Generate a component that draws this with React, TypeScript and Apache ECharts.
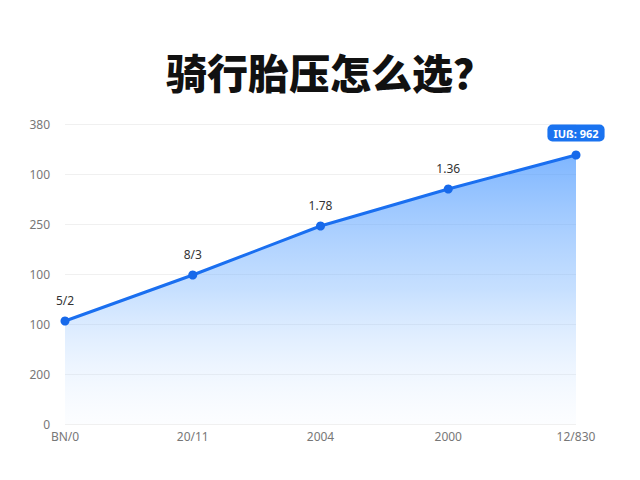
import * as echarts from "echarts";
import React, { useEffect, useRef } from "react";

const categories = ["BN/0", "20/11", "2004", "2000", "12/830"];
const values = [103, 149, 198, 235, 269];
const pointLabels = ["5/2", "8/3", "1.78", "1.36", "IUß: 962"];
// tick labels as printed on the y axis, from 0 upward
const yTickLabels = ["0", "200", "100", "100", "250", "100", "380"];

const App: React.FC = () => {
  const chartRef = useRef<HTMLDivElement | null>(null);

  useEffect(() => {
    const chart = echarts.init(chartRef.current, null, { renderer: "svg" });
    const last = values.length - 1;
    chart.setOption({
      animation: false,
      backgroundColor: "#ffffff",
      title: {
        text: "骑行胎压怎么选？",
        left: 153,
        top: 37,
        textStyle: {
          fontFamily: "Noto Sans CJK SC",
          fontSize: 41,
          fontWeight: 900,
          color: "#111111",
        },
      },
      grid: { left: 57, right: 56, top: 116, bottom: 48 },
      xAxis: {
        type: "category",
        boundaryGap: false,
        data: categories,
        axisLine: { show: false },
        axisTick: { show: false },
        axisLabel: {
          margin: 6,
          color: "#777777",
          fontSize: 12,
          fontFamily: "Noto Sans",
        },
      },
      yAxis: {
        type: "value",
        min: 0,
        max: 300,
        interval: 50,
        axisLine: { show: false },
        axisTick: { show: false },
        splitLine: { lineStyle: { color: "#f0f0f0", width: 1 } },
        axisLabel: {
          margin: 15,
          color: "#777777",
          fontSize: 12,
          fontFamily: "Noto Sans",
          formatter: (v: number) => yTickLabels[Math.round(v / 50)] ?? "",
        },
      },
      series: [
        {
          type: "line",
          data: values.map((v, i) =>
            i === last
              ? {
                  value: v,
                  label: {
                    show: true,
                    position: "top",
                    distance: 9,
                    color: "#ffffff",
                    fontWeight: "bold",
                    fontSize: 11,
                    backgroundColor: "#1a73f0",
                    borderRadius: 5,
                    padding: [3, 6],
                    formatter: pointLabels[i],
                  },
                }
              : v
          ),
          symbol: "circle",
          symbolSize: 9,
          itemStyle: { color: "#1769ea" },
          lineStyle: { color: "#1a6ff0", width: 3 },
          label: {
            show: true,
            position: "top",
            distance: 10,
            color: "#333333",
            fontSize: 12,
            fontFamily: "Noto Sans",
            formatter: (p: any) => pointLabels[p.dataIndex],
          },
          areaStyle: {
            color: new echarts.graphic.LinearGradient(0, 0, 0, 1, [
              { offset: 0, color: "rgba(62,145,255,0.95)" },
              { offset: 0.5, color: "rgba(120,180,255,0.6)" },
              { offset: 1, color: "rgba(225,238,255,0.15)" },
            ]),
          },
        },
      ],
    });

    return () => {
      chart.dispose();
    };
  }, []);

  return <div style={{ width: "624px", height: "464px" }} ref={chartRef}></div>;
};

export default App;
